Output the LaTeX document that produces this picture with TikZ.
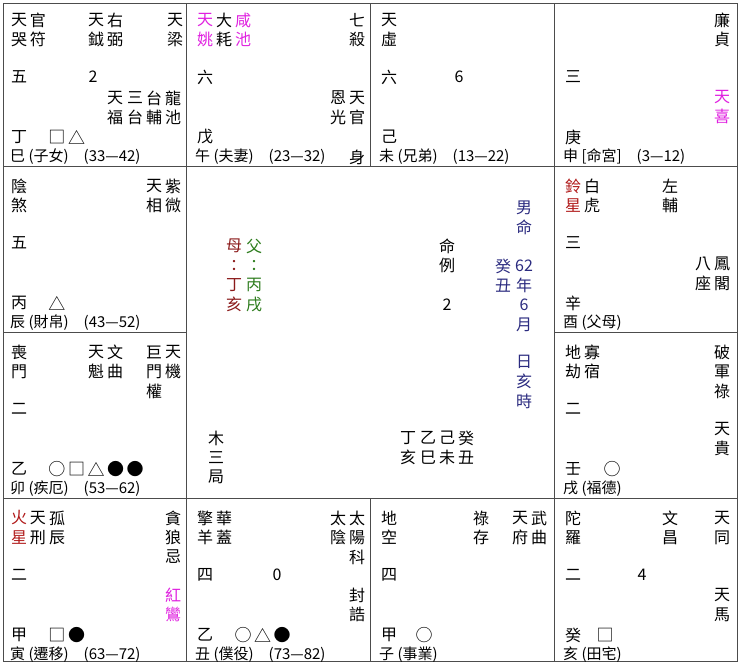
\documentclass[tikz,border=0pt]{standalone}
\usepackage{fontspec}
\setmainfont{Noto Sans CJK TC}
\definecolor{mg}{HTML}{E020E0}
\definecolor{dr}{HTML}{B01818}
\definecolor{br}{HTML}{8B1A1A}
\definecolor{gr}{HTML}{2E7D1E}
\definecolor{nv}{HTML}{2B2B80}
\tikzset{cj/.style={inner sep=0pt,font=\fontsize{16}{18}\selectfont},
 sy/.style={inner sep=0pt,font=\fontsize{17}{18}\selectfont},
 bl/.style={cj,anchor=west,font=\fontsize{15}{18}\selectfont},
 grid/.style={draw=black!70,line width=1pt}}
\newcommand\V[4]{\foreach \c [count=\i from 0] in {#4} {\node[cj,text=#3] at (#1,{#2+\i*19.5}) {\c};}}
\newcommand\Sym[3]{\foreach \c [count=\i from 0] in {#3} {\node[sy] at ({#1+\i*19.5},#2) {\c};}}
\begin{document}
\begin{tikzpicture}[x=1pt,y=-1pt]
\useasboundingbox (0,0) rectangle (740,664);
\fill[white] (0,0) rectangle (740,664);
\draw[grid] (3,3) rectangle (737,661);
\draw[grid] (3,166) -- (737,166);
\draw[grid] (3,498) -- (737,498);
\draw[grid] (3,332) -- (186,332);
\draw[grid] (554,332) -- (737,332);
\draw[grid] (186,3) -- (186,661);
\draw[grid] (554,3) -- (554,661);
\draw[grid] (370,3) -- (370,166);
\draw[grid] (370,498) -- (370,661);
% 巳
\V{19}{20}{black}{天,哭}\V{38}{20}{black}{官,符}
\V{96}{20}{black}{天,鉞}\V{115}{20}{black}{右,弼}\V{175}{20}{black}{天,梁}
\node[cj] at (19,77){五};\node[cj] at (93,77){2};
\V{115}{98}{black}{天,福}\V{135}{98}{black}{三,台}\V{154}{98}{black}{台,輔}\V{173}{98}{black}{龍,池}
\node[cj] at (19,137){丁};\Sym{57}{137}{□,△}
\node[bl] at (10,157){巳 (子女)\quad(33—42)};
% 午
\V{205}{20}{mg}{天,姚}\V{224}{20}{black}{大,耗}\V{243}{20}{mg}{咸,池}
\V{357}{20}{black}{七,殺}
\node[cj] at (205,77){六};
\V{338}{98}{black}{恩,光}\V{357}{98}{black}{天,官}
\node[cj] at (205,137){戊};
\node[bl] at (195,157){午 (夫妻)\quad(23—32)};\node[cj] at (357,157){身};
% 未
\V{389}{20}{black}{天,虛}
\node[cj] at (389,77){六};\node[cj] at (459,77){6};
\node[cj] at (389,137){己};
\node[bl] at (379,157){未 (兄弟)\quad(13—22)};
% 申
\V{722}{20}{black}{廉,貞}
\node[cj] at (573,77){三};
\V{722}{97}{mg}{天,喜}
\node[cj] at (573,137){庚};
\node[bl] at (563,157){申 [命宮]\quad(3—12)};
% 辰
\V{19}{186}{black}{陰,煞}\V{154}{186}{black}{天,相}\V{173}{186}{black}{紫,微}
\node[cj] at (19,243){五};
\node[cj] at (19,303){丙};\Sym{57}{303}{△}
\node[bl] at (10,323){辰 (財帛)\quad(43—52)};
% 卯
\V{19}{352}{black}{喪,門}\V{96}{352}{black}{天,魁}\V{115}{352}{black}{文,曲}
\V{154}{352}{black}{巨,門,權}\V{173}{352}{black}{天,機}
\node[cj] at (19,409){二};
\node[cj] at (19,469){乙};\Sym{57}{469}{○,□,△,●,●}
\node[bl] at (10,489){卯 (疾厄)\quad(53—62)};
% 酉
\V{573}{186}{dr}{鈴,星}\V{592}{186}{black}{白,虎}\V{670}{186}{black}{左,輔}
\node[cj] at (573,243){三};
\V{703}{264}{black}{八,座}\V{722}{264}{black}{鳳,閣}
\node[cj] at (573,303){辛};
\node[bl] at (563,323){酉 (父母)};
% 戌
\V{573}{352}{black}{地,劫}\V{592}{352}{black}{寡,宿}\V{722}{352}{black}{破,軍,祿}
\node[cj] at (573,409){二};
\V{722}{429}{black}{天,貴}
\node[cj] at (573,469){壬};\Sym{612}{469}{○}
\node[bl] at (563,489){戌 (福德)};
% 寅
\V{19}{518}{dr}{火,星}\V{38}{518}{black}{天,刑}\V{57}{518}{black}{孤,辰}
\V{173}{518}{black}{貪,狼,忌}
\node[cj] at (19,575){二};
\V{173}{595}{mg}{紅,鸞}
\node[cj] at (19,635){甲};\Sym{57}{635}{□,●}
\node[bl] at (10,655){寅 (遷移)\quad(63—72)};
% 丑
\V{205}{518}{black}{擎,羊}\V{224}{518}{black}{華,蓋}\V{338}{518}{black}{太,陰}\V{357}{518}{black}{太,陽,科}
\node[cj] at (205,575){四};\node[cj] at (277,575){0};
\V{357}{595}{black}{封,誥}
\node[cj] at (205,635){乙};\Sym{243}{635}{○,△,●}
\node[bl] at (195,655){丑 (僕役)\quad(73—82)};
% 子
\V{389}{518}{black}{地,空}\V{481}{518}{black}{祿,存}\V{520}{518}{black}{天,府}\V{539}{518}{black}{武,曲}
\node[cj] at (389,575){四};
\node[cj] at (389,635){甲};\Sym{424}{635}{○}
\node[bl] at (379,655){子 (事業)};
% 亥
\V{573}{518}{black}{陀,羅}\V{670}{518}{black}{文,昌}\V{722}{518}{black}{天,同}
\node[cj] at (573,575){二};\node[cj] at (642,575){4};
\V{722}{595}{black}{天,馬}
\node[cj] at (573,635){癸};\Sym{605}{635}{□}
\node[bl] at (563,655){亥 (田宅)};
% center
\V{234}{246}{br}{母,：,丁,亥}
\V{254}{246}{gr}{父,：,丙,戌}
\V{447}{246}{black}{命,例}\node[cj] at (447,305){2};
\V{524}{208}{nv}{男,命}
\V{503}{266}{nv}{癸,丑}
\V{524}{266}{nv}{62,年,6,月}
\V{524}{362}{nv}{日,亥,時}
\V{216}{438}{black}{木,三,局}
\V{408}{438}{black}{丁,亥}\V{428}{438}{black}{乙,巳}\V{447}{438}{black}{己,未}\V{466}{438}{black}{癸,丑}
\end{tikzpicture}
\end{document}
